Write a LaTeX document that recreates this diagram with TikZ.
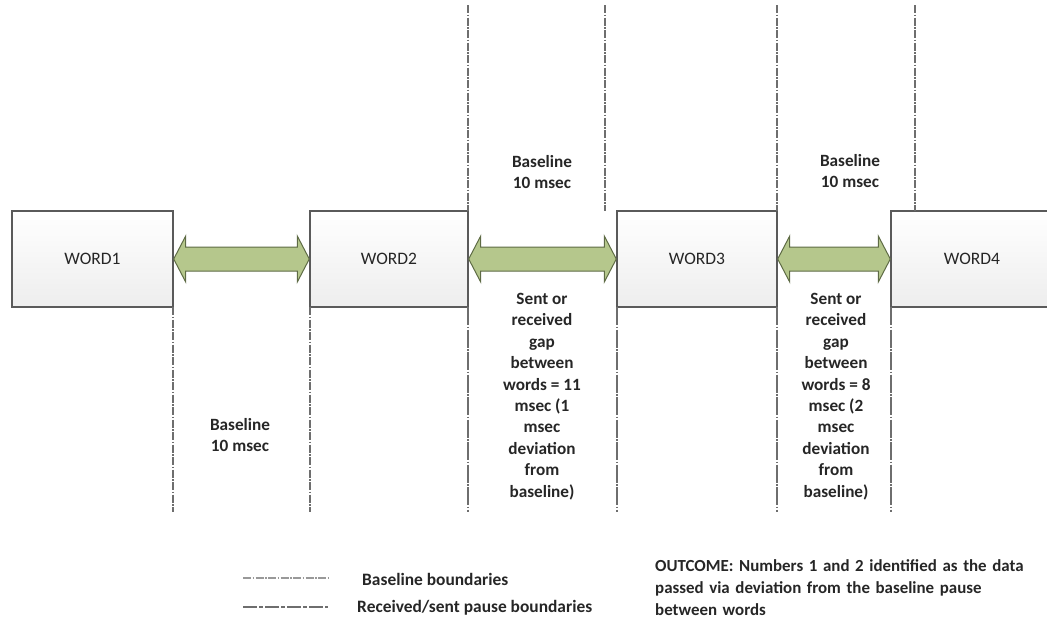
\documentclass[tikz,border=0pt]{standalone}
\usepackage{fontspec}
\setmainfont{Carlito}
\usetikzlibrary{calc}
\definecolor{arrowfill}{HTML}{B5C78C}
\definecolor{arrowdraw}{HTML}{5E6B45}
\definecolor{boxdraw}{HTML}{5A5A5A}
\definecolor{linegray}{HTML}{6E6E6E}
\definecolor{txt}{HTML}{262626}
\tikzset{
  wordbox/.style={draw=boxdraw, line width=1.4pt, top color=white, bottom color=black!7, minimum height=96pt, inner sep=0pt, font=\fontsize{17.5}{20}\selectfont, text=txt},
  gaparrow/.style={draw=arrowdraw, line width=1pt, fill=arrowfill},
  baseline line/.style={draw=linegray, line width=1.5pt, dash pattern=on 8pt off 1.5pt on 1.5pt off 1.5pt},
  pause line/.style={draw=linegray, line width=1.6pt, dash pattern=on 18pt off 1.5pt on 1.5pt off 1.5pt},
  lbl/.style={font=\bfseries\fontsize{17.2}{21.4}\selectfont, text=txt, align=center, inner sep=0pt},
  legtxt/.style={font=\bfseries\fontsize{17.4}{22}\selectfont, text=txt, align=left, inner sep=0pt, anchor=west},
}
\begin{document}
\begin{tikzpicture}[x=1pt,y=-1pt]
\useasboundingbox (0,0) rectangle (1047,619);
\begin{scope}
\clip (0,0) rectangle (1047,619);
% boxes
\node[wordbox, minimum width=161pt] (w1) at (92.5,259) {WORD1};
\node[wordbox, minimum width=158pt] (w2) at (389,259) {WORD2};
\node[wordbox, minimum width=160pt] (w3) at (697,259) {WORD3};
\node[wordbox, minimum width=170pt] (w4box) at (976,259) {};
\node[font=\fontsize{17.5}{20}\selectfont, text=txt] (w4) at (972,259) {WORD4};
\end{scope}
% coordinates for boundary lines
\coordinate (u1a) at (468,5);   \coordinate (u1b) at (468,211);
\coordinate (u2a) at (605,5);   \coordinate (u2b) at (605,211);
\coordinate (u3a) at (777,5);   \coordinate (u3b) at (777,211);
\coordinate (u4a) at (915,5);   \coordinate (u4b) at (915,211);
\coordinate (l1a) at (173,307); \coordinate (l1b) at (173,512);
\coordinate (l2a) at (310,307); \coordinate (l2b) at (310,512);
\coordinate (l3a) at (468,307); \coordinate (l3b) at (468,512);
\coordinate (l4a) at (617,307); \coordinate (l4b) at (617,512);
\coordinate (l5a) at (777,307); \coordinate (l5b) at (777,512);
\coordinate (l6a) at (891,307); \coordinate (l6b) at (891,512);
\draw[baseline line] (u1a) -- (u1b);
\draw[baseline line] (u2a) -- (u2b);
\draw[baseline line] (u3a) -- (u3b);
\draw[baseline line] (u4a) -- (u4b);
\draw[baseline line] (l1a) -- (l1b);
\draw[baseline line] (l2a) -- (l2b);
\draw[pause line] (l3a) -- (l3b);
\draw[pause line] (l4a) -- (l4b);
\draw[pause line] (l5a) -- (l5b);
\draw[pause line] (l6a) -- (l6b);
% double arrows
\draw[gaparrow] (w1.east) -- ++(12,-23) -- ++(0,11) -- ($(w2.west)+(-12,-12)$) -- ++(0,-11) -- (w2.west) -- ++(-12,23) -- ++(0,-11) -- ($(w1.east)+(12,12)$) -- ++(0,11) -- cycle;
\draw[gaparrow] (w2.east) -- ++(12,-23) -- ++(0,11) -- ($(w3.west)+(-12,-12)$) -- ++(0,-11) -- (w3.west) -- ++(-12,23) -- ++(0,-11) -- ($(w2.east)+(12,12)$) -- ++(0,11) -- cycle;
\draw[gaparrow] (w3.east) -- ++(12,-23) -- ++(0,11) -- ($(w4box.west)+(-12,-12)$) -- ++(0,-11) -- (w4box.west) -- ++(-12,23) -- ++(0,-11) -- ($(w3.east)+(12,12)$) -- ++(0,11) -- cycle;
% labels
\node[lbl] (b1) at (240,435) {Baseline\\10 msec};
\node[lbl] (b2) at (542,172) {Baseline\\10 msec};
\node[lbl] (b3) at (850,171) {Baseline\\10 msec};
\node[lbl, anchor=north] (g1) at (542,293) {Sent or\\received\\gap\\between\\words = 11\\msec (1\\msec\\deviation\\from\\baseline)};
\node[lbl, anchor=north] (g2) at (836,293) {Sent or\\received\\gap\\between\\words = 8\\msec (2\\msec\\deviation\\from\\baseline)};
% legend
\coordinate (lg1a) at (243,578); \coordinate (lg1b) at (328,578);
\coordinate (lg2a) at (243,607); \coordinate (lg2b) at (328,607);
\draw[draw=linegray!70, line width=1.2pt, dash pattern=on 8pt off 1.5pt on 1.5pt off 1.5pt] (lg1a) -- (lg1b);
\draw[draw=linegray, line width=1.2pt, dash pattern=on 14pt off 2pt on 4pt off 2pt] (lg2a) -- (lg2b);
\node[legtxt] (t1) at (362,579) {Baseline boundaries};
\node[legtxt] (t2) at (357,608) {Received/sent pause boundaries};
\node[legtxt, font=\bfseries\fontsize{16.9}{22}\selectfont, anchor=north west, text width=390pt] (out) at (655,559) {OUTCOME: Numbers 1 and 2 identified as the data\\passed via deviation from the baseline pause\\between words};
\end{tikzpicture}
\end{document}
